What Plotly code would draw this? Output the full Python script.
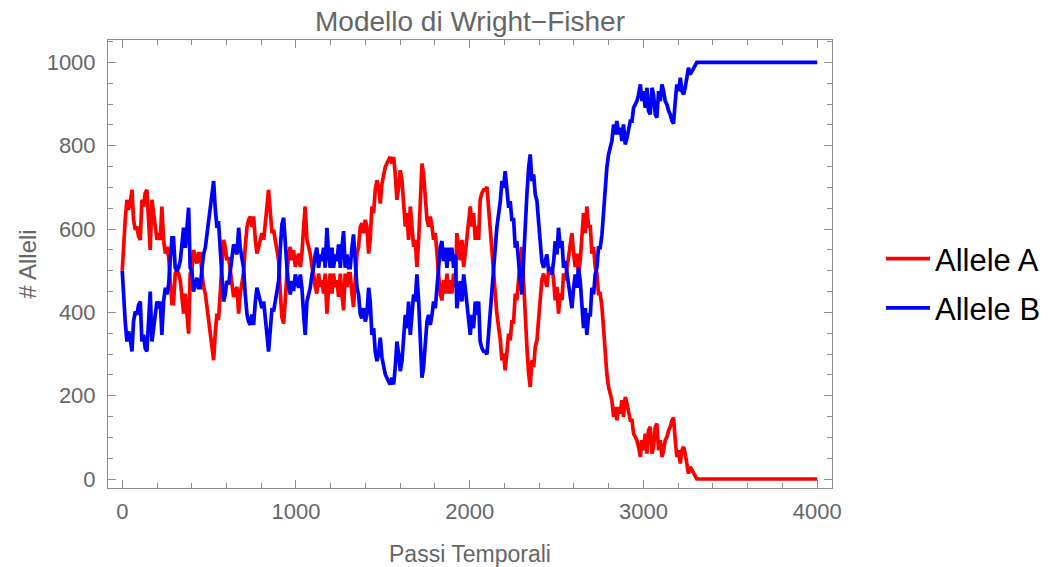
import plotly.graph_objects as go

# time steps (Passi Temporali)
steps = [
    0, 8, 17, 27, 36, 46, 56, 65, 75, 84, 94, 104, 113, 123, 132, 142, 152, 161, 171, 180,
    190, 200, 209, 219, 228, 238, 248, 257, 267, 276, 286, 295, 305, 315, 324, 334, 343, 353, 363, 372,
    382, 391, 401, 410, 420, 430, 439, 449, 459, 468, 478, 487, 497, 507, 516, 526, 535, 545, 554, 564,
    574, 583, 593, 602, 612,
    622, 641, 660, 670, 679, 698, 708, 718, 727, 737, 746, 756, 766, 775, 785, 794, 804, 814, 823, 833,
    842, 852, 862, 871, 881, 890, 900, 910, 919, 929, 938, 948, 958, 967, 977, 986, 996, 1005, 1015, 1025,
    1034, 1044, 1053, 1063, 1072, 1082, 1092, 1101, 1111, 1120, 1130, 1140, 1149, 1159, 1168, 1178, 1188, 1197, 1207, 1216,
    1226, 1236, 1245, 1255, 1264, 1274, 1283, 1293, 1303,
    1312, 1322, 1331, 1341, 1351, 1360, 1370, 1379, 1389, 1399, 1408, 1418, 1427, 1437, 1447, 1456, 1466, 1475, 1485, 1495,
    1504, 1514, 1523, 1533, 1542, 1552, 1562, 1571, 1581, 1591, 1600, 1610, 1619, 1629, 1639, 1648, 1658, 1667, 1677, 1686,
    1696, 1706, 1715, 1725, 1734, 1744, 1754, 1763, 1773, 1783, 1792, 1802, 1811, 1821, 1830, 1840, 1849, 1859, 1869, 1878,
    1888, 1897, 1907, 1917, 1926, 1936, 1945, 1955, 1965, 1974, 1984, 1993,
    2003, 2012, 2022, 2032, 2041, 2051, 2060, 2070, 2080, 2089, 2099, 2108, 2118, 2128, 2137, 2147, 2156, 2166, 2176, 2185,
    2195, 2204, 2214, 2224, 2233, 2243, 2252, 2262, 2271, 2281, 2291, 2300, 2310, 2319, 2329, 2339, 2348, 2358, 2368, 2377,
    2387, 2396, 2406, 2415, 2425, 2435, 2444, 2454, 2463, 2473, 2483, 2492, 2502, 2511, 2521, 2531, 2540, 2550, 2559, 2569,
    2578, 2588, 2598, 2607, 2617, 2626, 2636, 2646, 2655, 2665, 2674, 2684,
    2694, 2703, 2713, 2722, 2732, 2741, 2751, 2761, 2770, 2780, 2789, 2799, 2809, 2818, 2828, 2837, 2847, 2857, 2866, 2876,
    2885, 2895, 2905, 2914, 2924, 2934, 2943, 2953, 2962, 2972, 2982, 2991, 3000, 3010, 3020, 3029, 3039, 3049, 3058, 3068,
    3077, 3087, 3097, 3106, 3116, 3125, 3135, 3145, 3154, 3164, 3173, 3183, 3192, 3202, 3212, 3221, 3231, 3240, 3250, 3259,
    3269, 3279, 3288, 3298, 3307, 4000,
]

# number of copies of allele A
allele_a = [
    500, 582, 622, 670, 646, 662, 694, 622, 598, 606, 582, 574, 670, 654, 686, 694, 622, 550, 670, 630,
    606, 574, 590, 574, 654, 574, 541, 557, 533, 477, 421, 421, 493, 501, 493, 477, 429, 397, 445, 397,
    349, 493, 501, 550, 533, 517, 541, 541, 493, 461, 445, 413, 389, 349, 317, 285, 349, 397, 381, 445,
    493, 574, 557, 525, 533,
    493, 437, 461, 397, 445, 493, 557, 605, 622, 630, 605, 630, 574, 541, 557, 574, 590, 574, 606, 654,
    694, 638, 590, 598, 574, 541, 525, 445, 389, 373, 445, 493, 541, 557, 525, 549, 509, 525, 541, 509,
    541, 606, 654, 574, 557, 541, 509, 493, 461, 445, 493, 461, 477, 445, 493, 397, 461, 493, 445, 493,
    461, 477, 437, 493, 445, 405, 493, 461, 493,
    493, 445, 413, 477, 541, 557, 605, 614, 590, 622, 606, 541, 574, 654, 638, 694, 717, 701, 661, 709,
    733, 749, 757, 765, 773, 757, 773, 733, 670, 701, 741, 717, 654, 606, 638, 574, 654, 606, 557, 574,
    509, 574, 694, 757, 733, 670, 622, 606, 630, 606, 574, 590, 541, 493, 445, 429, 477, 445, 493, 445,
    477, 445, 493, 461, 590, 557, 525, 574, 509, 541, 574, 605,
    654, 606, 638, 574, 606, 574, 670, 686, 694, 694, 701, 654, 606, 541, 493, 445, 397, 365, 333, 285,
    301, 261, 317, 349, 333, 381, 373, 445, 429, 493, 525, 557, 477, 365, 317, 253, 221, 285, 269, 317,
    333, 381, 445, 477, 493, 477, 461, 501, 493, 509, 477, 429, 461, 397, 445, 429, 493, 477, 501, 541,
    557, 590, 541, 509, 541, 493, 525, 605, 638, 590, 654, 606,
    606, 541, 557, 509, 493, 445, 445, 413, 365, 293, 253, 221, 205, 189, 149, 173, 141, 173, 157, 189,
    149, 197, 181, 165, 141, 141, 109, 101, 93, 77, 53, 93, 69, 109, 61, 117, 125, 61, 77, 125,
    133, 69, 93, 53, 69, 93, 101, 117, 125, 141, 147, 93, 53, 69, 37, 69, 77, 61, 29, 13,
    29, 21, 13, 5, 0, 0,
]

# number of copies of allele B
allele_b = [
    500, 418, 378, 330, 354, 338, 306, 378, 402, 394, 418, 426, 330, 346, 314, 306, 378, 450, 330, 370,
    394, 426, 410, 426, 346, 426, 459, 443, 467, 523, 579, 579, 507, 499, 507, 523, 571, 603, 555, 603,
    651, 507, 499, 450, 467, 483, 459, 459, 507, 539, 555, 587, 611, 651, 683, 715, 651, 603, 619, 555,
    507, 426, 443, 475, 467,
    507, 563, 539, 603, 555, 507, 443, 395, 378, 370, 395, 370, 426, 459, 443, 426, 410, 426, 394, 346,
    306, 362, 410, 402, 426, 459, 475, 555, 611, 627, 555, 507, 459, 443, 475, 451, 491, 475, 459, 491,
    459, 394, 346, 426, 443, 459, 491, 507, 539, 555, 507, 539, 523, 555, 507, 603, 539, 507, 555, 507,
    539, 523, 563, 507, 555, 595, 507, 539, 507,
    507, 555, 587, 523, 459, 443, 395, 386, 410, 378, 394, 459, 426, 346, 362, 306, 283, 299, 339, 291,
    267, 251, 243, 235, 227, 243, 227, 267, 330, 299, 259, 283, 346, 394, 362, 426, 346, 394, 443, 426,
    491, 426, 306, 243, 267, 330, 378, 394, 370, 394, 426, 410, 459, 507, 555, 571, 523, 555, 507, 555,
    523, 555, 507, 539, 410, 443, 475, 426, 491, 459, 426, 395,
    346, 394, 362, 426, 394, 426, 330, 314, 306, 306, 299, 346, 394, 459, 507, 555, 603, 635, 667, 715,
    699, 739, 683, 651, 667, 619, 627, 555, 571, 507, 475, 443, 523, 635, 683, 747, 779, 715, 731, 683,
    667, 619, 555, 523, 507, 523, 539, 499, 507, 491, 523, 571, 539, 603, 555, 571, 507, 523, 499, 459,
    443, 410, 459, 491, 459, 507, 475, 395, 362, 410, 346, 394,
    394, 459, 443, 491, 507, 555, 555, 587, 635, 707, 747, 779, 795, 811, 851, 827, 859, 827, 843, 811,
    851, 803, 819, 835, 859, 859, 891, 899, 907, 923, 947, 907, 931, 891, 939, 883, 875, 939, 923, 875,
    867, 931, 907, 947, 931, 907, 899, 883, 875, 859, 853, 907, 947, 931, 963, 931, 923, 939, 971, 987,
    971, 979, 987, 995, 1000, 1000,
]

series_names = ["Allele A", "Allele B"]
series_colors = ["#ff0000", "#0000ff"]

FRAME = "#8f8f8f"
TEXT = "#666666"
FONT = "Liberation Sans, Arial, sans-serif"

fig = go.Figure()
for name, vals, col in zip(series_names, [allele_a, allele_b], series_colors):
    fig.add_trace(go.Scatter(
        x=steps, y=vals, mode="lines", name=name, legendgroup=name,
        line=dict(color=col, width=3.7),
    ))

axis_common = dict(
    ticks="inside", tickcolor=FRAME, tickwidth=1, ticklen=8,
    showline=True, linecolor=FRAME, linewidth=1, mirror="ticks",
    showgrid=False, zeroline=False,
    tickfont=dict(family=FONT, size=22, color=TEXT),
)

fig.update_layout(
    width=1051, height=567,
    margin=dict(l=108, r=219, t=40, b=79, pad=0),
    paper_bgcolor="white", plot_bgcolor="white",
    font=dict(family=FONT, color=TEXT, size=22),
    title=dict(
        text="Modello di Wright\u2212Fisher", xref="container", yref="container",
        x=470 / 1051, xanchor="center", y=1 - 21 / 567, yanchor="middle",
        font=dict(family=FONT, size=28, color=TEXT),
    ),
    xaxis=dict(
        range=[-82, 4085], tick0=0, dtick=1000,
        minor=dict(dtick=200, tick0=0, ticks="inside", ticklen=5, tickcolor=FRAME, showgrid=False),
        ticklabelstandoff=4,
        title=dict(text="Passi Temporali", font=dict(family=FONT, size=23, color=TEXT), standoff=22),
        automargin=False,
        **axis_common,
    ),
    yaxis=dict(
        range=[-21.6, 1053.6], tick0=0, dtick=200,
        minor=dict(dtick=50, tick0=0, ticks="inside", ticklen=5, tickcolor=FRAME, showgrid=False),
        ticklabelstandoff=7,
        title=dict(text="# Alleli", font=dict(family=FONT, size=24, color=TEXT), standoff=3),
        automargin=False,
        **axis_common,
    ),
    legend=dict(
        xref="container", yref="container", x=881 / 1051, xanchor="left",
        y=1 - 232 / 567, yanchor="top",
        font=dict(family=FONT, size=31, color="black"),
        tracegroupgap=6, itemwidth=44, bgcolor="rgba(0,0,0,0)",
    ),
    showlegend=True,
)

fig.write_html("out.html")
